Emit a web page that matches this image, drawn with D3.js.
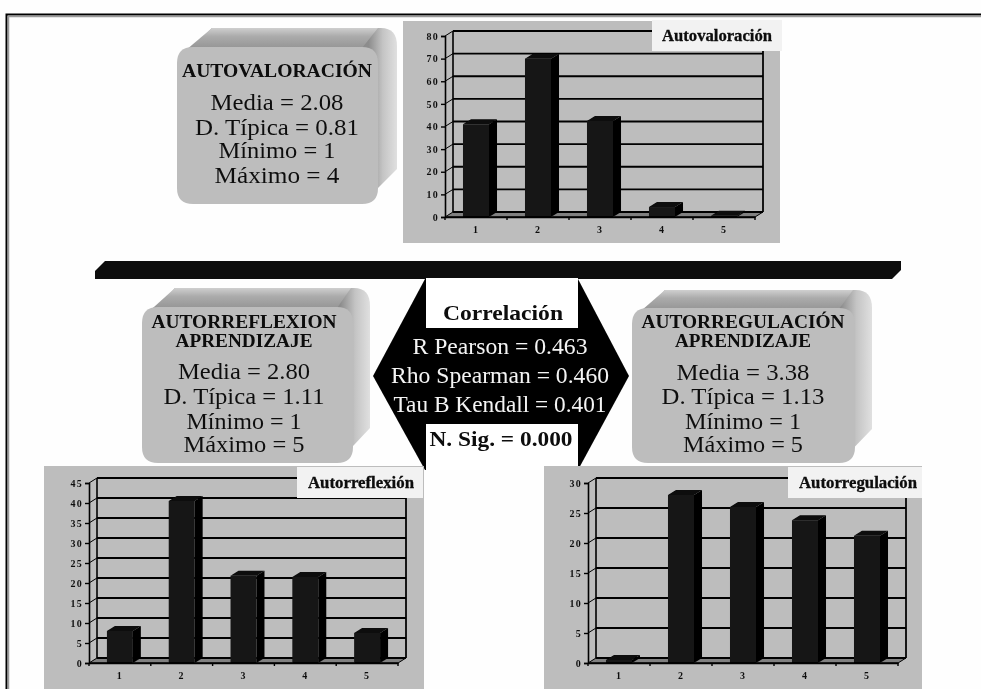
<!DOCTYPE html>
<html><head><meta charset="utf-8">
<script src="https://cdnjs.cloudflare.com/ajax/libs/d3/7.8.5/d3.min.js"></script>
<style>html,body{margin:0;padding:0;background:#fff}svg{display:block}text{font-family:"Liberation Serif",serif}</style>
</head><body><svg id="c" width="981" height="689"></svg>
<script>
const categories = ["1","2","3","4","5"];
const autovaloracion = [41, 70, 42.4, 4.4, 0.5];
const autorreflexion = [8, 40.5, 21.8, 21.5, 7.5];
const autorregulacion = [0.5, 28, 26, 23.8, 21.2];
const ticksValoracion = [0,10,20,30,40,50,60,70,80];
const ticksReflexion = [0,5,10,15,20,25,30,35,40,45];
const ticksRegulacion = [0,5,10,15,20,25,30];
const legendNames = ["Autovaloración","Autorreflexión","Autorregulación"];
const statsValoracion = ["Media = 2.08","D. Típica = 0.81","Mínimo = 1","Máximo = 4"];
const statsReflexion = ["Media = 2.80","D. Típica = 1.11","Mínimo = 1","Máximo = 5"];
const statsRegulacion = ["Media = 3.38","D. Típica = 1.13","Mínimo = 1","Máximo = 5"];
const corrTitle = "Correlación";
const corrLines = ["R Pearson = 0.463","Rho Spearman = 0.460","Tau B Kendall = 0.401"];
const corrSig = "N. Sig. = 0.000";

const svg = d3.select("#c");
const defs = svg.append("defs");
defs.append("filter").attr("id","soft").attr("filterUnits","userSpaceOnUse")
  .attr("x",0).attr("y",0).attr("width",981).attr("height",689)
  .append("feGaussianBlur").attr("stdDeviation",0.5);
function grad(id,x2,y2,stops){
  const g=defs.append("linearGradient").attr("id",id).attr("x1",0).attr("y1",0).attr("x2",x2).attr("y2",y2);
  stops.forEach(s=>g.append("stop").attr("offset",s[0]).attr("stop-color",s[1]));
}
grad("topFace",1,0,[[0,"#9a9a9a"],[0.55,"#8f8f8f"],[0.85,"#8a8a8a"],[1,"#a8a8a8"]]);
grad("topFade",0,1,[[0,"#ffffff"],[0.4,"#ffffff"],[1,"#ffffff"]]);
grad("sideFace",1,0,[[0,"#8c8c8c"],[0.86,"#8c8c8c"],[0.93,"#c4c4c4"],[1,"#e0e0e0"]]);
grad("topShade",0,1,[[0,"#cfcfcf"],[0.3,"#ababab"],[1,"#878787"]]);

const root = svg.append("g").attr("filter","url(#soft)");
root.append("rect").attr("width",981).attr("height",689).attr("fill","#fefefe");

// page frame
root.append("path").attr("d","M6.5,689V14.5H981").attr("fill","none").attr("stroke","#000").attr("stroke-width",2);
root.append("path").attr("d","M8.5,689V16.5H981").attr("fill","none").attr("stroke","#9a9a9a").attr("stroke-width",1.5);

// divider
root.append("path").attr("d",d3.line()([[105,261],[901,261],[901,270],[892,279],[95,279],[95,271]])+"Z").attr("fill","#0a0a0a");

// bevelled info boxes
function box(b,title,stats){
  const g=root.append("g");
  const {x0,x1,y0,y1,dx,dy}=b, r=16;
  const sil=d3.path();
  sil.moveTo(x0+r,y0);sil.lineTo(x0+r+dx,y0-dy);
  sil.lineTo(x1+dx-r,y0-dy);sil.quadraticCurveTo(x1+dx,y0-dy,x1+dx,y0-dy+r+2);
  sil.lineTo(x1+dx,y1-dy-r);sil.lineTo(x1-r,y1);sil.lineTo(x0+r,y1);sil.closePath();
  g.append("path").attr("d",sil.toString()).attr("fill","url(#sideFace)");
  const top=d3.path();
  top.moveTo(x0+r-14,y0+9);top.lineTo(x0+r+dx,y0-dy);top.lineTo(x1+dx-r-3,y0-dy);top.lineTo(x1-r,y0+1);top.closePath();
  g.append("path").attr("d",top.toString()).attr("fill","url(#topShade)");
  const f=d3.path();
  f.moveTo(x0+r,y0);f.lineTo(x1-r,y0);f.quadraticCurveTo(x1,y0,x1,y0+r);
  f.lineTo(x1,y1-r);f.quadraticCurveTo(x1,y1,x1-r,y1);f.lineTo(x0+r,y1);
  f.quadraticCurveTo(x0,y1,x0,y1-r);f.lineTo(x0,y0+r);f.quadraticCurveTo(x0,y0,x0+r,y0);f.closePath();
  g.append("path").attr("d",f.toString()).attr("fill","#bdbdbd");
  title.forEach(t=>g.append("text").text(t.s).attr("x",b.cx).attr("y",t.y).attr("text-anchor","middle")
    .attr("font-size",18).attr("font-weight","bold").attr("fill","#0a0a0a")
    .attr("textLength",t.w).attr("lengthAdjust","spacingAndGlyphs"));
  g.selectAll("text.s").data(stats).join("text").attr("class","s").text(d=>d)
    .attr("x",b.cx).attr("y",(d,i)=>b.ys[i]).attr("text-anchor","middle").attr("font-size",23).attr("fill","#111")
    .attr("textLength",(d,i)=>b.ws[i]).attr("lengthAdjust","spacingAndGlyphs");
}
box({x0:177,x1:378,y0:47,y1:204,dx:19,dy:19,cx:277,ys:[110,135,158,183],ws:[133,164,117,125]},
    [{s:"AUTOVALORACIÓN",y:77,w:190}],statsValoracion);
box({x0:142,x1:353,y0:307,y1:463,dx:17,dy:19,cx:244,ys:[379,404,429,452],ws:[132,161,115,121]},
    [{s:"AUTORREFLEXION",y:328,w:185},{s:"APRENDIZAJE",y:347,w:137}],statsReflexion);
box({x0:632,x1:855,y0:308,y1:463,dx:17,dy:18,cx:743,ys:[380,404,429,452],ws:[133,163,116,120]},
    [{s:"AUTORREGULACIÓN",y:328,w:203},{s:"APRENDIZAJE",y:347,w:136}],statsRegulacion);

// correlation hexagon
root.append("path").attr("d",d3.line()([[373,376],[425,279],[578,279],[629,376],[578,470],[425,470]])+"Z").attr("fill","#050505");
root.append("rect").attr("x",426).attr("y",278).attr("width",152).attr("height",50).attr("fill","#fff");
root.append("rect").attr("x",426).attr("y",424).attr("width",152).attr("height",46).attr("fill","#fff");
root.append("text").text(corrTitle).attr("x",503).attr("y",320).attr("text-anchor","middle").attr("font-size",22)
  .attr("font-weight","bold").attr("fill","#0a0a0a").attr("textLength",120).attr("lengthAdjust","spacingAndGlyphs");
const corrY=[354,383,412], corrW=[175,218,213];
root.selectAll("text.cl").data(corrLines).join("text").attr("class","cl").text(d=>d)
  .attr("x",500).attr("y",(d,i)=>corrY[i]).attr("text-anchor","middle").attr("font-size",23).attr("fill","#f4f4f4")
  .attr("textLength",(d,i)=>corrW[i]).attr("lengthAdjust","spacingAndGlyphs");
root.append("text").text(corrSig).attr("x",501).attr("y",446).attr("text-anchor","middle").attr("font-size",22)
  .attr("font-weight","bold").attr("fill","#0a0a0a").attr("textLength",143).attr("lengthAdjust","spacingAndGlyphs");

// 3D column charts
function chart(c,values,ticks,name){
  const g=root.append("g");
  g.append("rect").attr("x",c.px0).attr("y",c.py0).attr("width",c.px1-c.px0).attr("height",c.py1-c.py0).attr("fill","#bdbdbd");
  const x=d3.scaleBand().domain(categories).range([c.fx0,c.fx1]).paddingInner(0.58).paddingOuter(0.29);
  const xEdge=d3.scaleBand().domain(categories).range([c.fx0,c.fx1]);
  const y=d3.scaleLinear().domain([0,d3.max(ticks)]).range([c.fy,c.ftop]);
  const {dx,dy}=c;
  const ln=(x1,y1,x2,y2,w=1.4,col="#000")=>g.append("line").attr("x1",x1).attr("y1",y1).attr("x2",x2).attr("y2",y2).attr("stroke",col).attr("stroke-width",w);
  g.append("path").attr("d",d3.line()([[c.fx0,c.fy],[c.fx0+dx,c.fy-dy],[c.fx1+dx,c.fy-dy],[c.fx1,c.fy]])+"Z").attr("fill","#808080");
  ticks.forEach(t=>{
    const yy=y(t);
    ln(c.fx0+dx,yy-dy,c.fx1+dx,yy-dy,1.8);
    ln(c.fx0,yy,c.fx0+dx,yy-dy,1);
  });
  ln(c.fx0+dx,c.ftop-dy,c.fx0+dx,c.fy-dy,1.6);
  ln(c.fx1+dx,c.ftop-dy,c.fx1+dx,c.fy-dy,1.8);
  ln(c.fx1,c.fy,c.fx1+dx,c.fy-dy,1);
  const ay=d3.axisLeft(y).tickValues(ticks).tickSize(4).tickPadding(2);
  const gy=g.append("g").attr("transform",`translate(${c.fx0},0)`).call(ay);
  const ax=d3.axisBottom(xEdge).tickSize(0).tickPadding(9);
  const gx=g.append("g").attr("transform",`translate(0,${c.fy})`).call(ax);
  categories.concat(["end"]).forEach(d=>{
    const px=d==="end"?c.fx1:xEdge(d);
    ln(px,c.fy,px,c.fy+3,1.4);
  });
  [gy,gx].forEach(a=>{
    a.selectAll("path.domain").attr("stroke","#000").attr("stroke-width",1.6);
    a.selectAll("line").attr("stroke","#000").attr("stroke-width",1.4);
    a.selectAll("text").attr("font-size",10).attr("font-weight","bold").attr("fill","#111")
      .style("font-family",'"Liberation Serif",serif').attr("letter-spacing",1.2);
  });
  const bars=g.selectAll("g.bar").data(values).join("g").attr("class","bar");
  const poly=pts=>d3.line()(pts)+"Z";
  const w=x.bandwidth();
  bars.each(function(v,i){
    const s=d3.select(this), bx=x(categories[i]), t=y(v), b=y(0);
    s.append("path").attr("d",poly([[bx+w,t],[bx+w+dx,t-dy],[bx+w+dx,b-dy],[bx+w,b]])).attr("fill","#040404");
    s.append("path").attr("d",poly([[bx,t],[bx+dx,t-dy],[bx+w+dx,t-dy],[bx+w,t]])).attr("fill","#080808");
    s.append("rect").attr("x",bx).attr("y",t).attr("width",w).attr("height",b-t).attr("fill","#161616");
  });
  ln(c.fx0,c.fy,c.fx1,c.fy,1.6);
  g.append("rect").attr("x",c.lx0).attr("y",c.ly0).attr("width",c.lx1-c.lx0).attr("height",c.ly1-c.ly0).attr("fill","#f2f2f2");
  g.append("text").text(name).attr("x",c.lcx).attr("y",c.lby).attr("text-anchor","middle").attr("font-size",16)
    .attr("font-weight","bold").attr("fill","#0a0a0a").attr("stroke","#0a0a0a").attr("stroke-width",0.3)
    .attr("textLength",c.lw).attr("lengthAdjust","spacingAndGlyphs");
}
chart({px0:403,px1:780,py0:21,py1:243,fx0:445,fx1:755,fy:217,ftop:36,dx:8,dy:5,lx0:652,lx1:782,ly0:20,ly1:51,lcx:717,lby:41,lw:110},autovaloracion,ticksValoracion,legendNames[0]);
chart({px0:44,px1:424,py0:466,py1:689,fx0:89,fx1:398,fy:663,ftop:483,dx:8,dy:5,lx0:297,lx1:423,ly0:467,ly1:498,lcx:361,lby:488,lw:106},autorreflexion,ticksReflexion,legendNames[1]);
chart({px0:544,px1:922,py0:466,py1:689,fx0:588,fx1:898,fy:663,ftop:483,dx:8,dy:5,lx0:788,lx1:922,ly0:467,ly1:498,lcx:858,lby:488,lw:118},autorregulacion,ticksRegulacion,legendNames[2]);
</script></body></html>
